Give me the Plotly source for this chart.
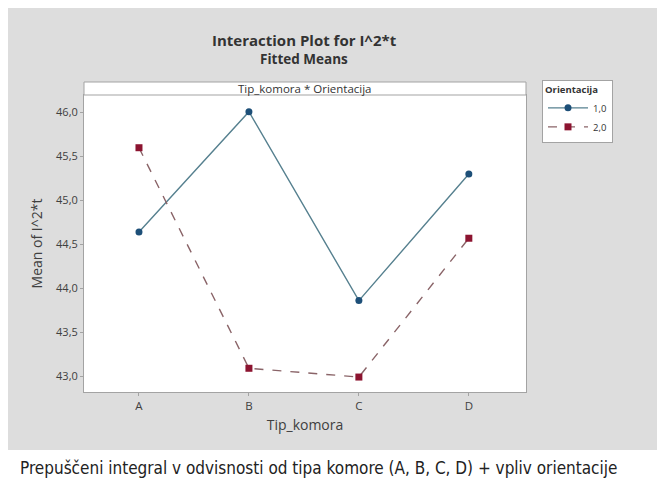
import plotly.graph_objects as go

categories = ["A", "B", "C", "D"]
series_names = ["1,0", "2,0"]
orient_1 = [44.64, 46.01, 43.86, 45.30]
orient_2 = [45.60, 43.09, 42.99, 44.57]
y_tickvals = [43.0, 43.5, 44.0, 44.5, 45.0, 45.5, 46.0]
y_ticktext = ["43,0", "43,5", "44,0", "44,5", "45,0", "45,5", "46,0"]

# the page body adds an 8px offset; work in screen pixels and convert
OFF = 8
W, H = 665 - OFF, 484 - OFF
L = 84 - OFF
T = 95 - OFF
R = W - (526 - OFF)
B = H - (392 - OFF)
pw, ph = W - L - R, H - T - B

def px_x(sx):
    return (sx - OFF - L) / pw

def px_y(sy):
    return (H - B - (sy - OFF)) / ph

font_main = "Open Sans"

fig = go.Figure()
fig.add_trace(go.Scatter(
    x=categories, y=orient_1, name=series_names[0], mode="lines+markers",
    line=dict(color="#56808f", width=1.4),
    marker=dict(symbol="circle", size=7, color="#1d4f78"),
))
fig.add_trace(go.Scatter(
    x=categories, y=orient_2, name=series_names[1], mode="lines+markers",
    line=dict(color="#8a6468", width=1.4, dash="dash"),
    marker=dict(symbol="square", size=7, color="#8c1430"),
))

shapes = [
    # white caption area below the grey panel
    dict(type="rect", xref="paper", yref="paper", x0=px_x(0), x1=px_x(700), y0=px_y(500), y1=px_y(450),
         fillcolor="white", line=dict(width=0), layer="below"),
    # header strip
    dict(type="rect", xref="paper", yref="paper", x0=0, x1=1, y0=1, y1=px_y(82),
         fillcolor="white", line=dict(color="#a3a3a3", width=1)),
]

annotations = [
    dict(text="<b>Interaction Plot for I^2*t</b>", xref="paper", yref="paper",
         x=px_x(304), y=px_y(40), showarrow=False, xanchor="center", yanchor="middle",
         font=dict(family=font_main, size=15, color="#333333")),
    dict(text="<b>Fitted Means</b>", xref="paper", yref="paper",
         x=px_x(304), y=px_y(59), showarrow=False, xanchor="center", yanchor="middle",
         font=dict(family=font_main, size=13.5, color="#333333")),
    dict(text="Tip_komora * Orientacija", xref="paper", yref="paper",
         x=0.5, y=px_y(88.5), showarrow=False, xanchor="center", yanchor="middle",
         font=dict(family=font_main, size=11.5, color="#333333")),
    dict(text="Prepuščeni integral v odvisnosti od tipa komore (A, B, C, D) + vpliv orientacije",
         xref="paper", yref="paper", x=px_x(18), y=px_y(468), showarrow=False,
         xanchor="left", yanchor="middle",
         font=dict(family="DejaVu Sans Condensed", size=17, color="#222222")),
]

fig.update_layout(
    width=W, height=H,
    margin=dict(l=L, r=R, t=T, b=B, pad=0),
    paper_bgcolor="#dddddd",
    plot_bgcolor="white",
    shapes=shapes,
    annotations=annotations,
    showlegend=True,
    legend=dict(
        title=dict(text="<b>Orientacija</b>", font=dict(family=font_main, size=9.5, color="#333333")),
        x=px_x(542), y=px_y(80), xanchor="left", yanchor="top",
        bgcolor="white", bordercolor="#a3a3a3", borderwidth=1,
        font=dict(family=font_main, size=9.5, color="#333333"),
        itemwidth=40, tracegroupgap=0,
    ),
)
fig.update_xaxes(
    type="category", range=[-0.5, 3.52],
    showgrid=False, zeroline=False,
    showline=True, linecolor="#a3a3a3", linewidth=1, mirror=True,
    ticks="outside", ticklen=3, tickcolor="#a3a3a3",
    tickfont=dict(family=font_main, size=11.5, color="#404040"),
    title=dict(text="Tip_komora", standoff=8,
               font=dict(family=font_main, size=14, color="#404040")),
)
fig.update_yaxes(
    range=[42.82, 46.2], tickvals=y_tickvals, ticktext=y_ticktext,
    showgrid=False, zeroline=False,
    showline=True, linecolor="#a3a3a3", linewidth=1, mirror=True,
    ticks="outside", ticklen=3, tickcolor="#a3a3a3",
    tickfont=dict(family=font_main, size=11, color="#404040"),
    title=dict(text="Mean of I^2*t", standoff=10,
               font=dict(family=font_main, size=14, color="#404040")),
)

fig.write_html("out.html")
